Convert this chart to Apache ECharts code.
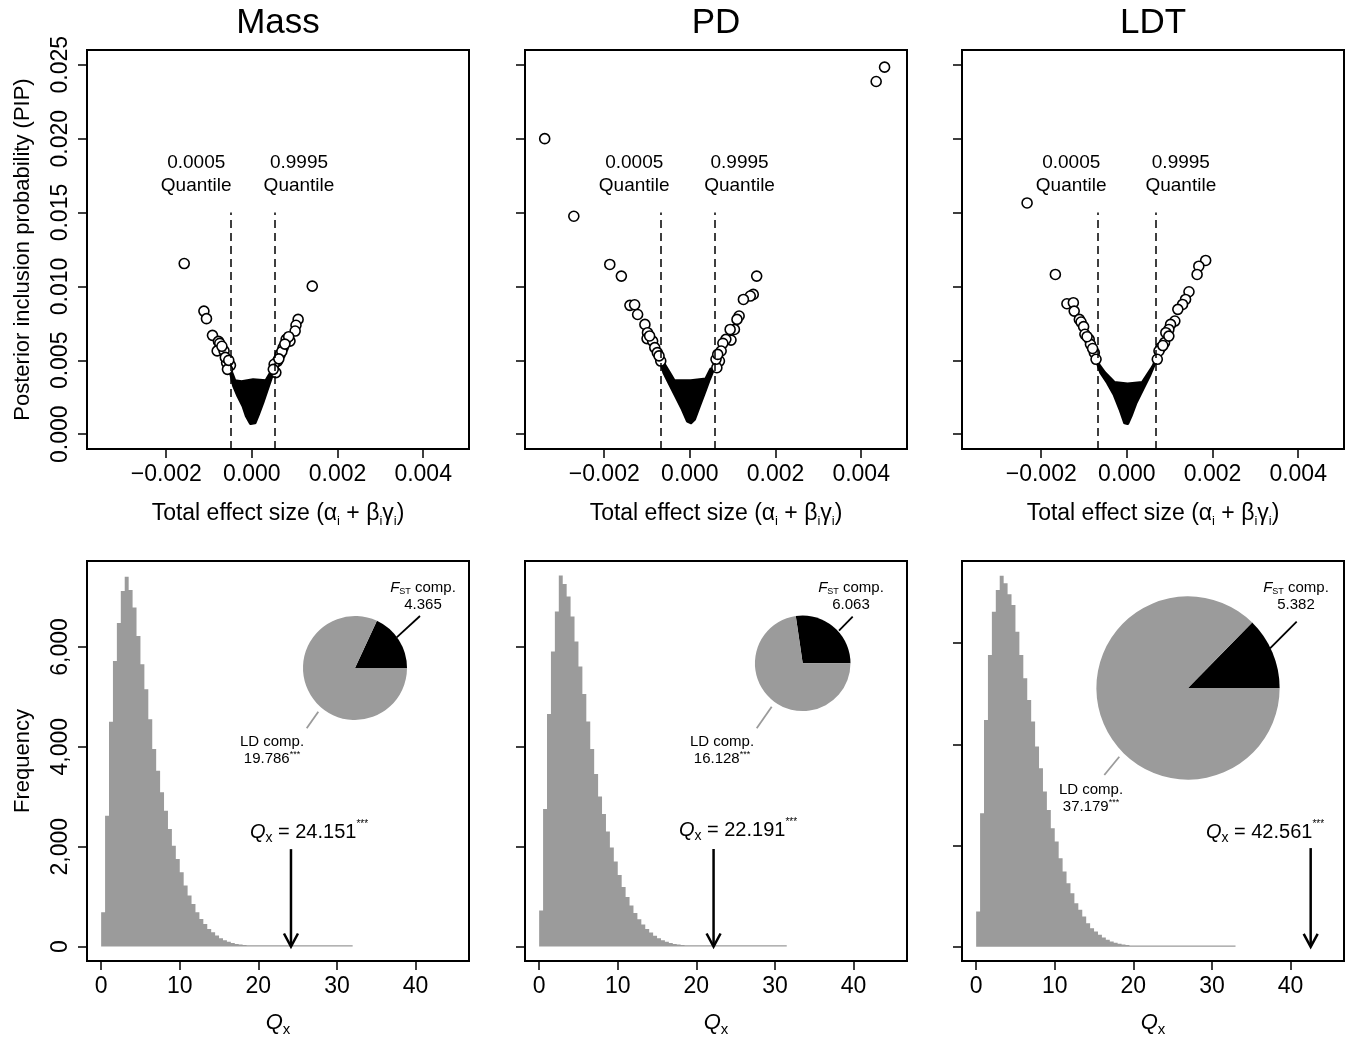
<!DOCTYPE html>
<html>
<head>
<meta charset="utf-8">
<title>PIP and Qx panels</title>
<script src="https://cdn.jsdelivr.net/npm/echarts@6/dist/echarts.min.js"></script>
<style>
  html, body { margin: 0; padding: 0; background: #ffffff; }
  #chart { width: 1346px; height: 1040px; }
</style>
</head>
<body>
<div id="chart"></div>
<script>
// ---- data ----
const panelNames = ['Mass', 'PD', 'LDT'];

// top row: total effect size vs PIP
const effectTicks = [-0.002, 0, 0.002, 0.004];
const pipTicks = [0, 0.005, 0.010, 0.015, 0.020, 0.025];
const quantileLow = [-0.0005, -0.00067, -0.00068];
const quantileHigh = [0.00053, 0.00058, 0.00068];

// open circles (SNPs outside the quantiles)
const massCircles = [
  [-0.00158, 0.01155], [0.00141, 0.01002], [-0.00112, 0.00833], [-0.00106, 0.00782],
  [-0.00092, 0.00669], [-0.00078, 0.00628], [-0.00075, 0.00615], [-0.00081, 0.00564],
  [-0.00065, 0.00564], [-0.00070, 0.00595], [-0.00059, 0.00484], [-0.00050, 0.00466],
  [-0.00057, 0.00439], [-0.00062, 0.00520], [-0.00054, 0.00500],
  [0.00108, 0.00777], [0.00103, 0.00737], [0.00101, 0.00698], [0.00089, 0.00630],
  [0.00080, 0.00642], [0.00086, 0.00660], [0.00073, 0.00586], [0.00066, 0.00540],
  [0.00060, 0.00495], [0.00052, 0.00473], [0.00056, 0.00417], [0.00050, 0.00439],
  [0.00070, 0.00560], [0.00063, 0.00510], [0.00077, 0.00610]
];
const pdCircles = [
  [-0.00339, 0.02000], [0.004546, 0.02484], [0.00435, 0.02387], [-0.00271, 0.01475],
  [-0.00187, 0.01149], [-0.00160, 0.01070], [-0.00140, 0.00872], [-0.00129, 0.00876],
  [-0.00122, 0.00810], [-0.00105, 0.00743], [-0.00099, 0.00687], [-0.00100, 0.00647],
  [-0.00087, 0.00630], [-0.00082, 0.00586], [-0.00076, 0.00552], [-0.00068, 0.00495],
  [-0.00072, 0.00530], [-0.00094, 0.00665],
  [0.00156, 0.01070], [0.00148, 0.00946], [0.00141, 0.00935], [0.00125, 0.00912],
  [0.00115, 0.00800], [0.00110, 0.00777], [0.00104, 0.00709], [0.00094, 0.00709],
  [0.00096, 0.00637], [0.00084, 0.00642], [0.00077, 0.00615], [0.00073, 0.00563],
  [0.00069, 0.00495], [0.00063, 0.00450], [0.00061, 0.00507], [0.00065, 0.00540]
];
const ldtCircles = [
  [-0.00233, 0.01565], [-0.00167, 0.01081], [-0.00140, 0.00883], [-0.00125, 0.00890],
  [-0.00123, 0.00833], [-0.00111, 0.00777], [-0.00107, 0.00759], [-0.00101, 0.00728],
  [-0.00098, 0.00676], [-0.00088, 0.00642], [-0.00085, 0.00608], [-0.00076, 0.00552],
  [-0.00072, 0.00507], [-0.00080, 0.00580], [-0.00093, 0.00660],
  [0.00184, 0.01176], [0.00168, 0.01137], [0.00164, 0.01081], [0.00145, 0.00964],
  [0.00137, 0.00912], [0.00130, 0.00878], [0.00119, 0.00845], [0.00112, 0.00766],
  [0.00102, 0.00743], [0.00098, 0.00709], [0.00091, 0.00687], [0.00088, 0.00620],
  [0.00079, 0.00586], [0.00075, 0.00563], [0.00071, 0.00507], [0.00098, 0.00664],
  [0.00084, 0.00600]
];

// outline of the solid black cloud of SNPs inside the quantiles
const massCore = [
  [-0.000538, 0.00473], [-0.000475, 0.00394], [-0.000421, 0.00327], [-0.00032, 0.00259],
  [-0.000203, 0.00191], [-0.000124, 0.00124], [-0.00003, 0.00074], [0.00007, 0.00079],
  [0.000148, 0.00135], [0.00025, 0.00214], [0.000343, 0.00293], [0.000437, 0.00372],
  [0.000515, 0.00439], [0.00042, 0.00405], [0.000328, 0.0036], [0.00003, 0.00367],
  [-0.00024, 0.00353], [-0.0004, 0.0036], [-0.000475, 0.00417]
];
const pdCore = [
  [-0.000662, 0.00473], [-0.000601, 0.00417], [-0.000484, 0.00349], [-0.000327, 0.00259],
  [-0.000171, 0.00169], [-0.000054, 0.0009], [0.000023, 0.00079], [0.000101, 0.00101],
  [0.000218, 0.00191], [0.000335, 0.00282], [0.000451, 0.00372], [0.000545, 0.00439],
  [0.000491, 0.00439], [0.000374, 0.00372], [0.000023, 0.0036], [-0.000367, 0.0036],
  [-0.000484, 0.00417], [-0.000601, 0.00473]
];
const ldtCore = [
  [-0.000698, 0.00495], [-0.000605, 0.00417], [-0.000449, 0.00349], [-0.000295, 0.0027],
  [-0.000156, 0.00169], [-0.000047, 0.00079], [0.000016, 0.00074], [0.000093, 0.00124],
  [0.000209, 0.00214], [0.000365, 0.00304], [0.000519, 0.00394], [0.000635, 0.00473],
  [0.000698, 0.00507], [0.000598, 0.00451], [0.000365, 0.00349], [0.000016, 0.00338],
  [-0.000295, 0.00349], [-0.000528, 0.00417], [-0.000667, 0.00473]
];

// bottom row: null distribution of Qx
const qxTicks = [0, 10, 20, 30, 40];
const freqTicks = [0, 2000, 4000, 6000];
const binWidth = 0.5;
const massCounts = [
  686, 2620, 4500, 5720, 6480, 7120, 7406, 7140, 6787, 6220,
  5653, 5153, 4553, 3953, 3520, 3087, 2720, 2353, 2020, 1753,
  1487, 1220, 1020, 853, 687, 553, 453, 353, 287, 220,
  167, 125, 95, 70, 52, 40, 30, 22, 16, 12,
  9, 7, 5, 4, 3, 3, 2, 2, 2, 1,
  1, 1, 1, 1, 1, 1, 1, 1, 1, 1, 1, 1, 1, 1
];
const pdCounts = [
  720, 2750, 4650, 5900, 6700, 7420, 7250, 7000, 6600, 6100,
  5600, 5050, 4500, 3950, 3450, 3000, 2650, 2300, 1980, 1700,
  1430, 1190, 990, 820, 670, 545, 440, 350, 280, 215,
  165, 125, 95, 70, 52, 40, 30, 22, 16, 12,
  9, 7, 5, 4, 3, 3, 2, 2, 2, 1,
  1, 1, 1, 1, 1, 1, 1, 1, 1, 1, 1, 1, 1
];
const ldtCounts = [
  697, 2639, 4481, 5764, 6619, 7047, 7330, 7179, 6962, 6752,
  6225, 5764, 5304, 4876, 4448, 3955, 3527, 3066, 2704, 2343,
  2079, 1750, 1487, 1257, 1060, 862, 730, 599, 467, 368,
  303, 237, 184, 140, 105, 80, 60, 45, 34, 25,
  18, 13, 10, 7, 5, 4, 3, 2, 2, 1,
  1, 1, 1, 1, 1, 1, 1, 1, 1, 1, 1, 1, 1, 1, 1, 1
];
const qxObserved = [24.151, 22.191, 42.561];
const fstComp = [4.365, 6.063, 5.382];
const ldComp = [19.786, 16.128, 37.179];

// ---- layout ----
const FONT = '"Liberation Sans", Arial, Helvetica, sans-serif';
const GRAY = '#9b9b9b';
const lefts = [87, 525, 962];
const gridW = 382;
const freqMax = [7720, 7710, 7620];
const freqMin = [-290, -290, -280];
const pieScale = 2.153; // px of radius per unit of Qx
const pieCenters = [[355, 668], [802.7, 663.3], [1188, 688]];
const fstText = [[423, 596], [851, 596], [1296, 596]];
const fstLine = [[396.7, 637.3, 420, 616], [839, 630.7, 852.7, 616.7], [1270, 648.3, 1296.7, 621.7]];
const ldText = [[272, 750], [722, 750], [1091, 798]];
const ldLine = [[318.3, 711.7, 306.7, 728.3], [771.7, 706.7, 756.7, 728.3], [1119.3, 756.7, 1104.3, 775]];
const qxText = [[309, 832], [738, 830], [1265, 832]];
const quantileLabelLowX = -0.0013;
const quantileLabelHighX = [0.0011, 0.00116, 0.00126];
const quantileLabelY = 0.0176;

const circles = [massCircles, pdCircles, ldtCircles];
const cores = [massCore, pdCore, ldtCore];
const counts = [massCounts, pdCounts, ldtCounts];

const fmtEffect = v => {
  if (Math.abs(v) < 1e-12) return '0.000';
  return (v < 0 ? '\u2212' : '') + Math.abs(v).toFixed(3);
};

const tickStyle = { length: 9, lineStyle: { color: '#000', width: 1.5 } };
const labelBase = { color: '#000', fontSize: 23, fontFamily: FONT };
const hiddenLine = { show: false, onZero: false };

const grids = [];
const xAxes = [];
const yAxes = [];
const series = [];

for (let i = 0; i < 3; i++) {
  grids.push({ left: lefts[i], top: 50, width: gridW, height: 399, show: true,
    borderColor: '#000', borderWidth: 2, outerBoundsMode: 'none' });
}
for (let i = 0; i < 3; i++) {
  grids.push({ left: lefts[i], top: 561, width: gridW, height: 400, show: true,
    borderColor: '#000', borderWidth: 2, outerBoundsMode: 'none' });
}

// top axes
for (let i = 0; i < 3; i++) {
  xAxes.push({
    gridIndex: i, type: 'value', min: -0.00385, max: 0.00507, position: 'bottom',
    axisLine: hiddenLine, splitLine: { show: false },
    axisTick: Object.assign({ customValues: effectTicks }, tickStyle),
    axisLabel: Object.assign({ customValues: effectTicks, formatter: fmtEffect, margin: 14 }, labelBase),
    name: 'Total effect size (\u03b1{s|i} + \u03b2{s|i}\u03b3{s|i})',
    nameLocation: 'middle', nameGap: 65,
    nameTextStyle: {
      color: '#000', fontSize: 23, fontFamily: FONT, lineHeight: 28, verticalAlign: 'middle',
      rich: { s: { fontSize: 13, lineHeight: 13, fontFamily: FONT, color: '#000', verticalAlign: 'bottom' } }
    }
  });
  yAxes.push({
    gridIndex: i, type: 'value', min: -0.001, max: 0.026, position: 'left',
    axisLine: hiddenLine, splitLine: { show: false },
    axisTick: Object.assign({ customValues: pipTicks }, tickStyle),
    axisLabel: Object.assign({ show: i === 0, customValues: pipTicks, rotate: 90, margin: 15,
      formatter: v => v.toFixed(3) }, labelBase),
    name: i === 0 ? 'Posterior inclusion probability (PIP)' : '',
    nameLocation: 'middle', nameGap: 53,
    nameTextStyle: { color: '#000', fontSize: 22, fontFamily: FONT }
  });
}
// bottom axes
for (let i = 0; i < 3; i++) {
  xAxes.push({
    gridIndex: 3 + i, type: 'value', min: -1.8, max: 46.8, position: 'bottom',
    axisLine: hiddenLine, splitLine: { show: false },
    axisTick: Object.assign({ customValues: qxTicks }, tickStyle),
    axisLabel: Object.assign({ customValues: qxTicks, margin: 14 }, labelBase),
    name: '{q|Q}{s|x}', nameLocation: 'middle', nameGap: 48,
    nameTextStyle: {
      color: '#000', fontSize: 22, fontFamily: FONT, lineHeight: 28,
      rich: {
        q: { fontSize: 22, fontStyle: 'italic', fontFamily: FONT, color: '#000', lineHeight: 28, verticalAlign: 'middle' },
        s: { fontSize: 15, fontFamily: FONT, color: '#000', lineHeight: 15, verticalAlign: 'bottom' }
      }
    }
  });
  yAxes.push({
    gridIndex: 3 + i, type: 'value', min: freqMin[i], max: freqMax[i], position: 'left',
    axisLine: hiddenLine, splitLine: { show: false },
    axisTick: Object.assign({ customValues: freqTicks }, tickStyle),
    axisLabel: Object.assign({ show: i === 0, customValues: freqTicks, rotate: 90, margin: 15,
      formatter: v => v.toLocaleString('en-US') }, labelBase),
    name: i === 0 ? 'Frequency' : '',
    nameLocation: 'middle', nameGap: 53,
    nameTextStyle: { color: '#000', fontSize: 22, fontFamily: FONT }
  });
}

// top row series
for (let i = 0; i < 3; i++) {
  const core = cores[i];
  series.push({
    type: 'custom', xAxisIndex: i, yAxisIndex: i, silent: true, clip: true,
    data: core,
    renderItem: (params, api) => {
      if (params.dataIndex !== 0) return null;
      const pts = core.map(p => api.coord(p));
      return { type: 'polygon', shape: { points: pts },
        style: { fill: '#000', stroke: '#000', lineWidth: 3.5, lineJoin: 'round' } };
    }
  });
  series.push({
    type: 'scatter', xAxisIndex: i, yAxisIndex: i, silent: true,
    data: circles[i], symbol: 'circle', symbolSize: 10,
    itemStyle: { color: '#fff', borderColor: '#000', borderWidth: 1.6, opacity: 1 },
    markLine: {
      silent: true, symbol: ['none', 'none'], label: { show: false },
      lineStyle: { color: '#000', width: 1.5, type: [8, 5] },
      data: [
        [{ coord: [quantileLow[i], -0.001] }, { coord: [quantileLow[i], 0.015] }],
        [{ coord: [quantileHigh[i], -0.001] }, { coord: [quantileHigh[i], 0.015] }]
      ]
    }
  });
}

// bottom row series
for (let i = 0; i < 3; i++) {
  const binCounts = counts[i];
  series.push({
    type: 'custom', xAxisIndex: 3 + i, yAxisIndex: 3 + i, silent: true,
    data: binCounts.map((c, k) => [k * binWidth, c]),
    renderItem: (params, api) => {
      // one step polygon for the whole histogram, so bars do not show seams
      if (params.dataIndex !== 0) return null;
      const base = api.coord([0, 0])[1];
      const pts = [api.coord([0, 0])];
      binCounts.forEach((c, k) => {
        const a = api.coord([k * binWidth, c]);
        const b = api.coord([(k + 1) * binWidth, c]);
        const y = Math.min(a[1], base - 1.2);
        pts.push([a[0], y], [b[0], y]);
      });
      pts.push(api.coord([binCounts.length * binWidth, 0]));
      return { type: 'polygon', shape: { points: pts }, style: { fill: GRAY } };
    }
  });
  series.push({
    type: 'custom', xAxisIndex: 3 + i, yAxisIndex: 3 + i, silent: true, clip: false,
    data: [[qxObserved[i], 1950, 0]],
    renderItem: (params, api) => {
      const top = api.coord([api.value(0), api.value(1)]);
      const tip = api.coord([api.value(0), api.value(2)]);
      return { type: 'group', children: [
        { type: 'line', shape: { x1: top[0], y1: top[1], x2: tip[0], y2: tip[1] - 1 },
          style: { stroke: '#000', lineWidth: 2.5 } },
        { type: 'polyline', shape: { points: [[tip[0] - 7, tip[1] - 13], [tip[0], tip[1]], [tip[0] + 7, tip[1] - 13]] },
          style: { stroke: '#000', lineWidth: 2.5, fill: null } }
      ] };
    }
  });
  series.push({
    type: 'pie', silent: true, center: pieCenters[i], radius: qxObserved[i] * pieScale,
    startAngle: 0, clockwise: false, avoidLabelOverlap: false,
    label: { show: false }, labelLine: { show: false }, emphasis: { disabled: true },
    itemStyle: { borderWidth: 0 },
    data: [
      { name: 'FST comp.', value: fstComp[i], itemStyle: { color: '#000' } },
      { name: 'LD comp.', value: ldComp[i], itemStyle: { color: GRAY } }
    ]
  });
}

const chart = echarts.init(document.getElementById('chart'), null, { renderer: 'canvas' });
chart.setOption({
  animation: false,
  backgroundColor: '#ffffff',
  grid: grids,
  xAxis: xAxes,
  yAxis: yAxes,
  series: series
});

// ---- annotations ----
const smallRich = {
  i: { fontStyle: 'italic', fontSize: 15, fontFamily: FONT, color: '#000', lineHeight: 17, verticalAlign: 'middle' },
  sub: { fontSize: 9, fontFamily: FONT, color: '#000', lineHeight: 9, verticalAlign: 'bottom' },
  sup: { fontSize: 9, fontFamily: FONT, color: '#000', lineHeight: 9, verticalAlign: 'top' },
  n: { fontSize: 15, fontFamily: FONT, color: '#000', lineHeight: 17, verticalAlign: 'middle' }
};
const bigRich = {
  q: { fontStyle: 'italic', fontSize: 20, fontFamily: FONT, color: '#000', lineHeight: 26, verticalAlign: 'middle' },
  sub: { fontSize: 14, fontFamily: FONT, color: '#000', lineHeight: 14, verticalAlign: 'bottom' },
  sup: { fontSize: 10, fontFamily: FONT, color: '#000', lineHeight: 10, verticalAlign: 'top' },
  n: { fontSize: 20, fontFamily: FONT, color: '#000', lineHeight: 26, verticalAlign: 'middle' }
};

const graphics = [];
const centersX = lefts.map(l => l + gridW / 2);
for (let i = 0; i < 3; i++) {
  graphics.push({ type: 'text', x: centersX[i], y: 23, silent: true,
    style: { text: panelNames[i], fontSize: 35, fontFamily: FONT, fill: '#000', align: 'center', verticalAlign: 'middle' } });

  const pLow = chart.convertToPixel({ gridIndex: i }, [quantileLabelLowX, quantileLabelY]);
  const pHigh = chart.convertToPixel({ gridIndex: i }, [quantileLabelHighX[i], quantileLabelY]);
  graphics.push({ type: 'text', x: pLow[0], y: pLow[1], silent: true,
    style: { text: '0.0005\nQuantile', fontSize: 19, lineHeight: 23, fontFamily: FONT, fill: '#000', align: 'center', verticalAlign: 'middle' } });
  graphics.push({ type: 'text', x: pHigh[0], y: pHigh[1], silent: true,
    style: { text: '0.9995\nQuantile', fontSize: 19, lineHeight: 23, fontFamily: FONT, fill: '#000', align: 'center', verticalAlign: 'middle' } });

  const fl = fstLine[i], ll = ldLine[i];
  graphics.push({ type: 'line', silent: true, shape: { x1: fl[0], y1: fl[1], x2: fl[2], y2: fl[3] },
    style: { stroke: '#000', lineWidth: 1.8 } });
  graphics.push({ type: 'line', silent: true, shape: { x1: ll[0], y1: ll[1], x2: ll[2], y2: ll[3] },
    style: { stroke: GRAY, lineWidth: 1.8 } });
  graphics.push({ type: 'text', x: fstText[i][0], y: fstText[i][1], silent: true,
    style: { text: '{i|F}{sub|ST}{n| comp.}\n{n|' + fstComp[i].toFixed(3) + '}', rich: smallRich,
      fontSize: 15, lineHeight: 17, fontFamily: FONT, fill: '#000', align: 'center', verticalAlign: 'middle' } });
  graphics.push({ type: 'text', x: ldText[i][0], y: ldText[i][1], silent: true,
    style: { text: '{n|LD comp.}\n{n|' + ldComp[i].toFixed(3) + '}{sup|***}', rich: smallRich,
      fontSize: 15, lineHeight: 17, fontFamily: FONT, fill: '#000', align: 'center', verticalAlign: 'middle' } });
  graphics.push({ type: 'text', x: qxText[i][0], y: qxText[i][1], silent: true,
    style: { text: '{q|Q}{sub|x}{n| = ' + qxObserved[i].toFixed(3) + '}{sup|***}', rich: bigRich,
      fontSize: 20, lineHeight: 26, fontFamily: FONT, fill: '#000', align: 'center', verticalAlign: 'middle' } });
}
chart.setOption({ graphic: graphics });
</script>
</body>
</html>
